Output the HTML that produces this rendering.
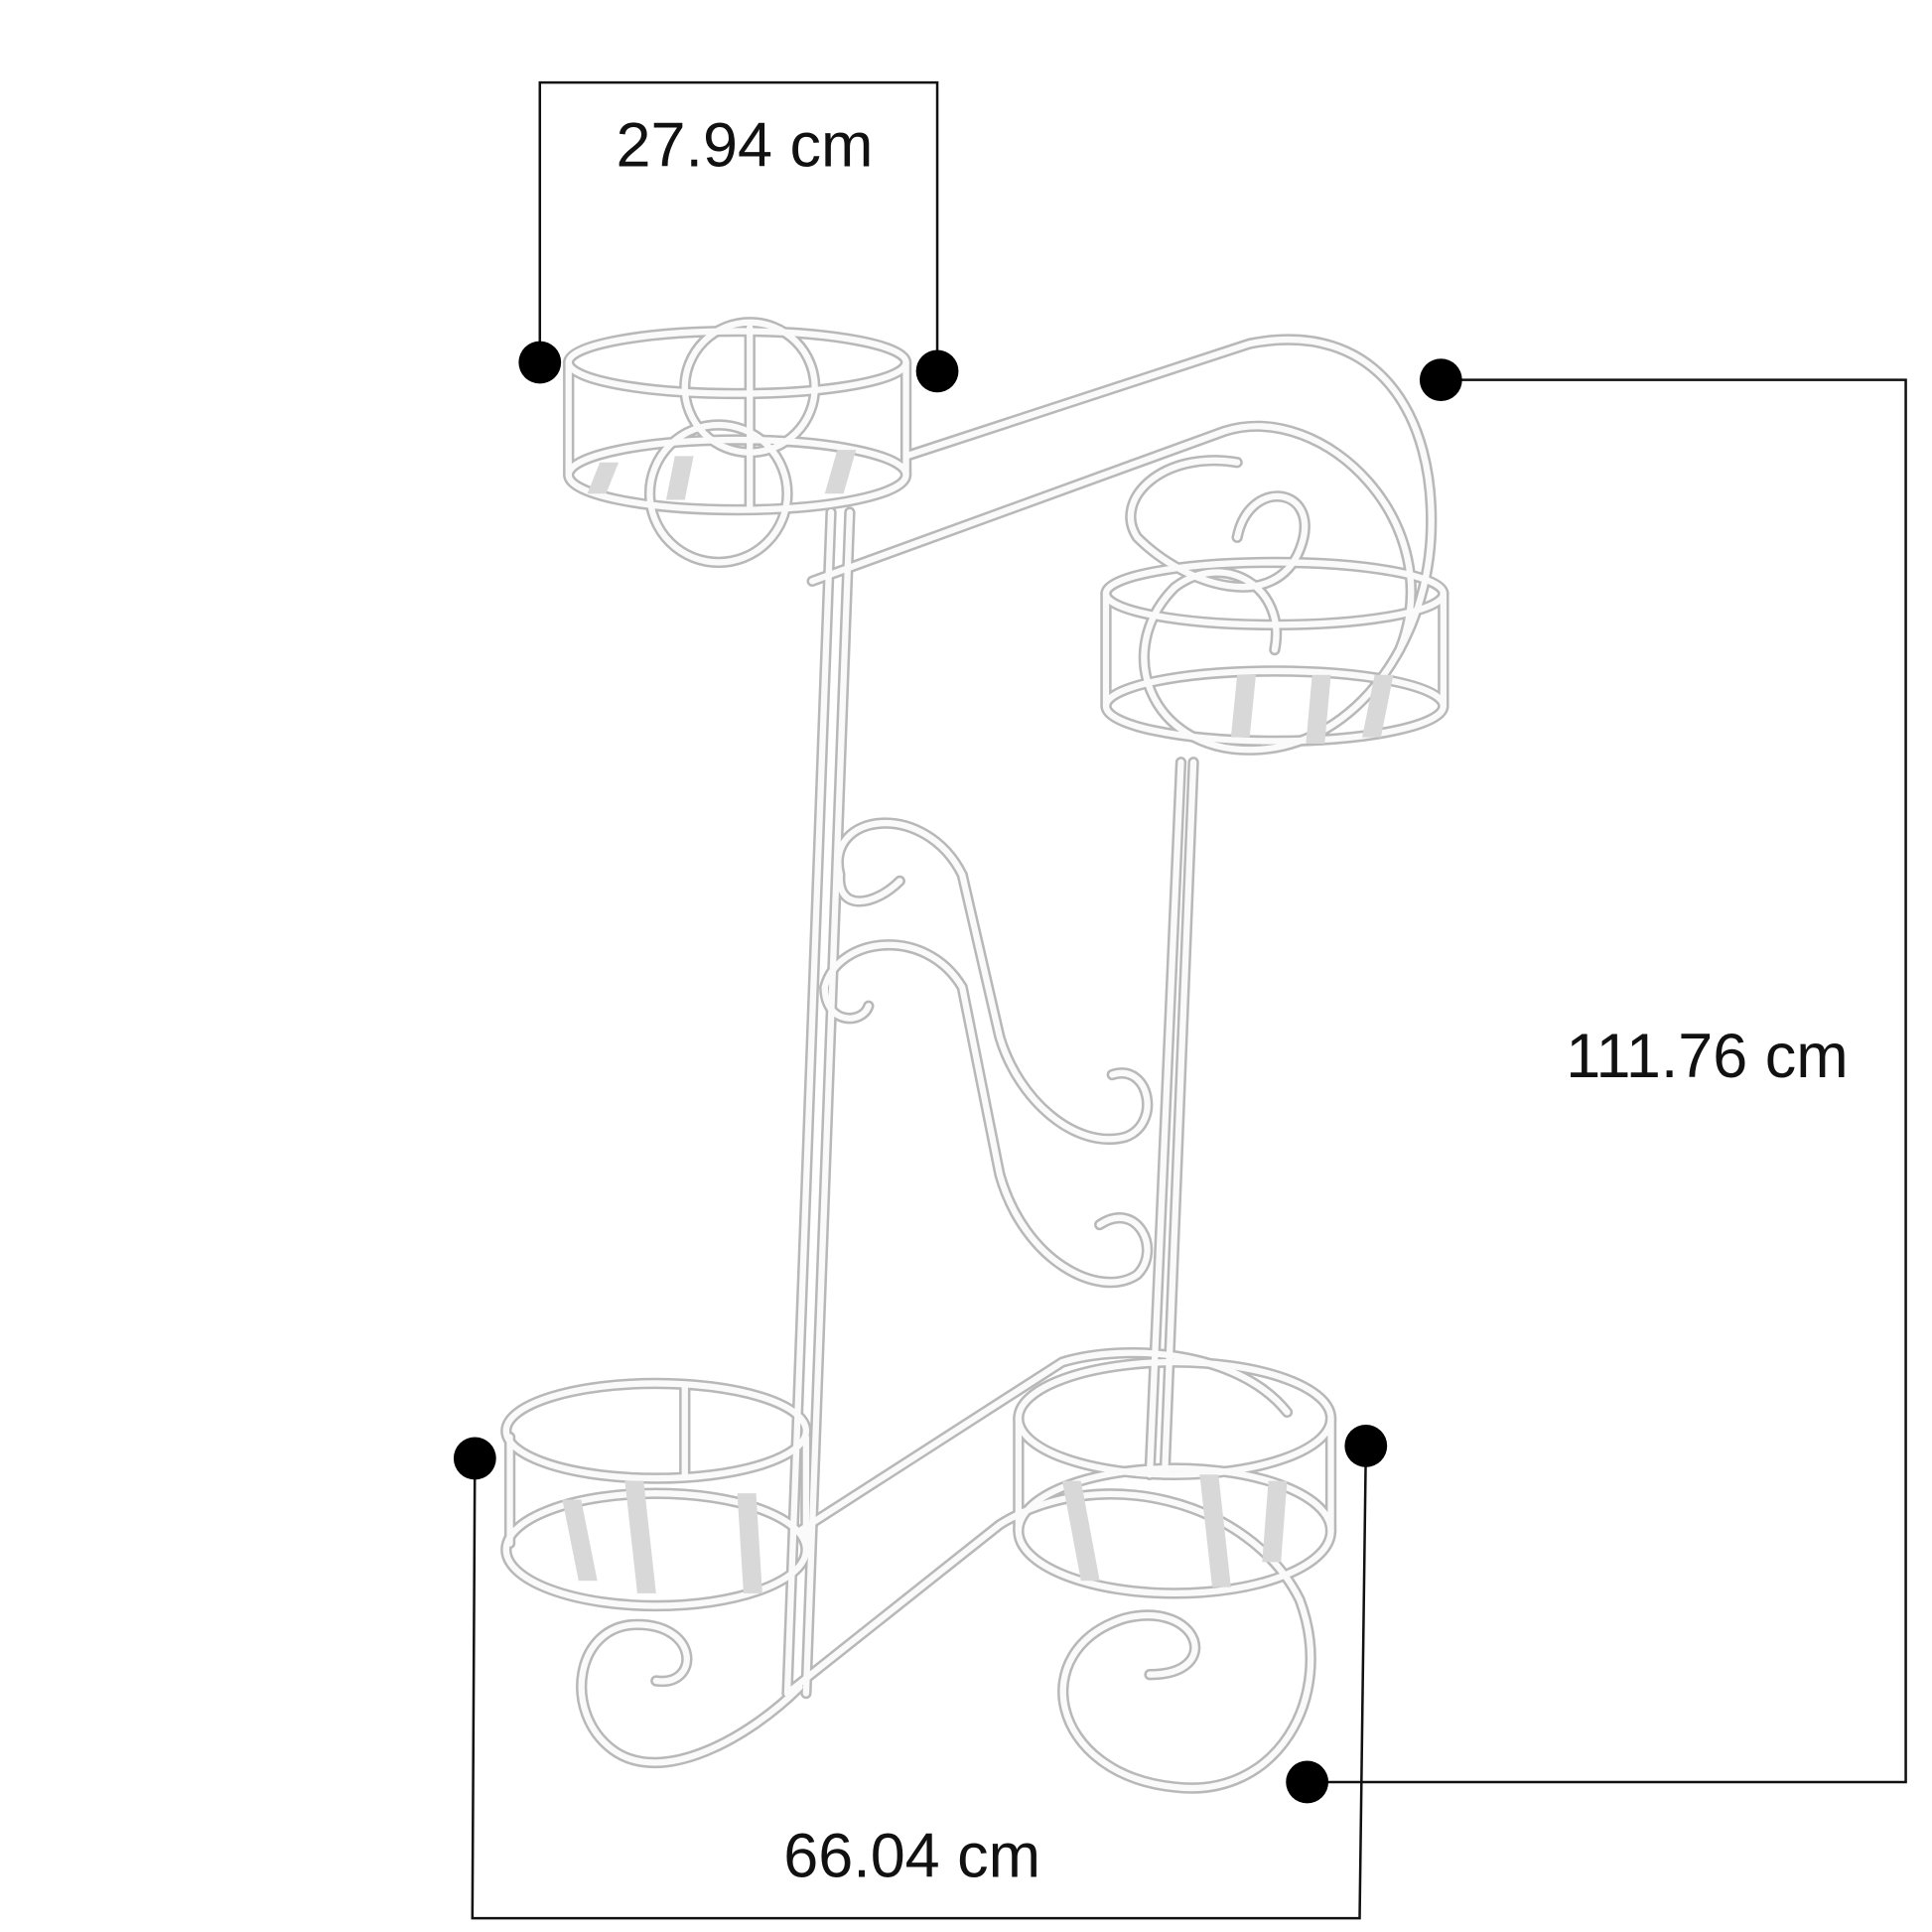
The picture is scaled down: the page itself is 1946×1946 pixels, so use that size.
<!DOCTYPE html>
<html><head><style>html,body{margin:0;padding:0;background:#fff}svg{display:block}</style></head>
<body>
<svg width="1946" height="1946" viewBox="0 0 1546 1546" xmlns="http://www.w3.org/2000/svg">
<rect width="1546" height="1546" fill="#fff"/>
<defs>
<g id="wire" fill="none" stroke-linecap="round">
  <!-- top-left basket -->
  <ellipse cx="590" cy="290" rx="135" ry="25"/>
  <ellipse cx="590" cy="380" rx="135" ry="28"/>
  <line x1="455" y1="290" x2="455" y2="380"/><line x1="725" y1="290" x2="725" y2="380"/>
  <circle cx="600" cy="310" r="52"/>
  <circle cx="575" cy="395" r="55"/>
  <path d="M600 262 L600 405"/>
  <!-- top arm -->
  <path d="M725 365 L1000 275 C1100 255 1150 330 1145 430 C1140 520 1080 600 1000 600 C920 600 890 520 940 470 C980 440 1030 470 1020 520"/>
  <path d="M650 465 L980 345 C1060 320 1160 420 1120 520"/>
  <path d="M990 430 C1000 380 1060 390 1040 440 C1020 490 950 470 910 430 C890 400 930 360 990 370"/>
  <!-- top-right basket -->
  <ellipse cx="1020" cy="475" rx="135" ry="25"/>
  <ellipse cx="1020" cy="565" rx="135" ry="28"/>
  <line x1="885" y1="475" x2="885" y2="565"/><line x1="1155" y1="475" x2="1155" y2="565"/>
  <!-- poles -->
  <path d="M665 410 L630 1355"/><path d="M680 410 L645 1355"/>
  <path d="M945 610 L920 1180"/><path d="M955 610 L932 1180"/>
  <!-- S scrolls -->
  <path d="M672 700 C660 650 740 640 770 700 L800 830 C815 880 860 920 900 910 C930 900 920 850 890 860"/>
  <path d="M660 790 C670 750 740 740 770 790 L800 940 C820 1010 880 1040 910 1020 C930 1000 910 960 880 980"/>
  <path d="M672 700 C670 730 700 725 720 705"/><path d="M660 790 C660 820 690 820 695 805"/>
  <!-- bottom-left basket -->
  <ellipse cx="525" cy="1145" rx="120" ry="38"/>
  <ellipse cx="525" cy="1240" rx="120" ry="45"/>
  <line x1="408" y1="1150" x2="408" y2="1235"/><line x1="645" y1="1150" x2="645" y2="1235"/>
  <line x1="548" y1="1108" x2="548" y2="1180"/>
  <!-- bottom-right basket -->
  <ellipse cx="940" cy="1135" rx="125" ry="45"/>
  <ellipse cx="940" cy="1225" rx="125" ry="50"/>
  <line x1="815" y1="1135" x2="815" y2="1225"/><line x1="1065" y1="1135" x2="1065" y2="1225"/>
  <!-- bottom base -->
  <path d="M640 1225 L850 1090 C900 1075 990 1080 1030 1130"/>
  <path d="M630 1355 L800 1220 C880 1170 1000 1200 1040 1280 C1070 1360 1020 1440 940 1430 C840 1420 820 1320 900 1295 C960 1280 980 1340 920 1340"/>
  <path d="M640 1350 C600 1390 530 1430 490 1400 C450 1370 460 1300 510 1300 C560 1300 560 1350 525 1345"/>
</g>
</defs>
<use href="#wire" stroke="#b8b8b8" stroke-width="9"/>
<use href="#wire" stroke="#fafafa" stroke-width="5"/>
<!-- stripes -->
<g fill="#d8d8d8">
<polygon points="480,370 495,370 485,395 470,395"/><polygon points="540,365 555,365 548,400 533,400"/>
<polygon points="670,360 685,360 675,395 660,395"/>
<polygon points="990,540 1005,540 1000,590 985,590"/><polygon points="1050,540 1065,540 1060,595 1045,595"/><polygon points="1100,540 1115,540 1105,590 1090,590"/>
<polygon points="450,1200 465,1200 478,1265 463,1265"/><polygon points="500,1185 515,1185 525,1275 510,1275"/><polygon points="590,1195 605,1195 610,1275 595,1275"/>
<polygon points="850,1185 865,1185 880,1265 865,1265"/><polygon points="960,1180 975,1180 985,1270 970,1270"/><polygon points="1015,1185 1030,1185 1025,1250 1010,1250"/>
</g>
<!-- dimension lines -->
<g stroke="#111" stroke-width="2" fill="none">
<polyline points="432,290 432,66 750,66 750,297"/>
<polyline points="1153,304 1525,304 1525,1426 1046,1426"/>
<polyline points="380,1167 378,1535 1088,1535 1093,1157"/>
</g>
<g fill="#000">
<circle cx="432" cy="290" r="17"/><circle cx="750" cy="297" r="17"/>
<circle cx="1153" cy="304" r="17"/><circle cx="1046" cy="1426" r="17"/>
<circle cx="380" cy="1167" r="17"/><circle cx="1093" cy="1157" r="17"/>
</g>
<g font-family="Liberation Sans, sans-serif" font-size="50" fill="#111">
<text x="493" y="133">27.94 cm</text>
<text x="1253" y="862">111.76 cm</text>
<text x="627" y="1502">66.04 cm</text>
</g>
</svg>
</body></html>
